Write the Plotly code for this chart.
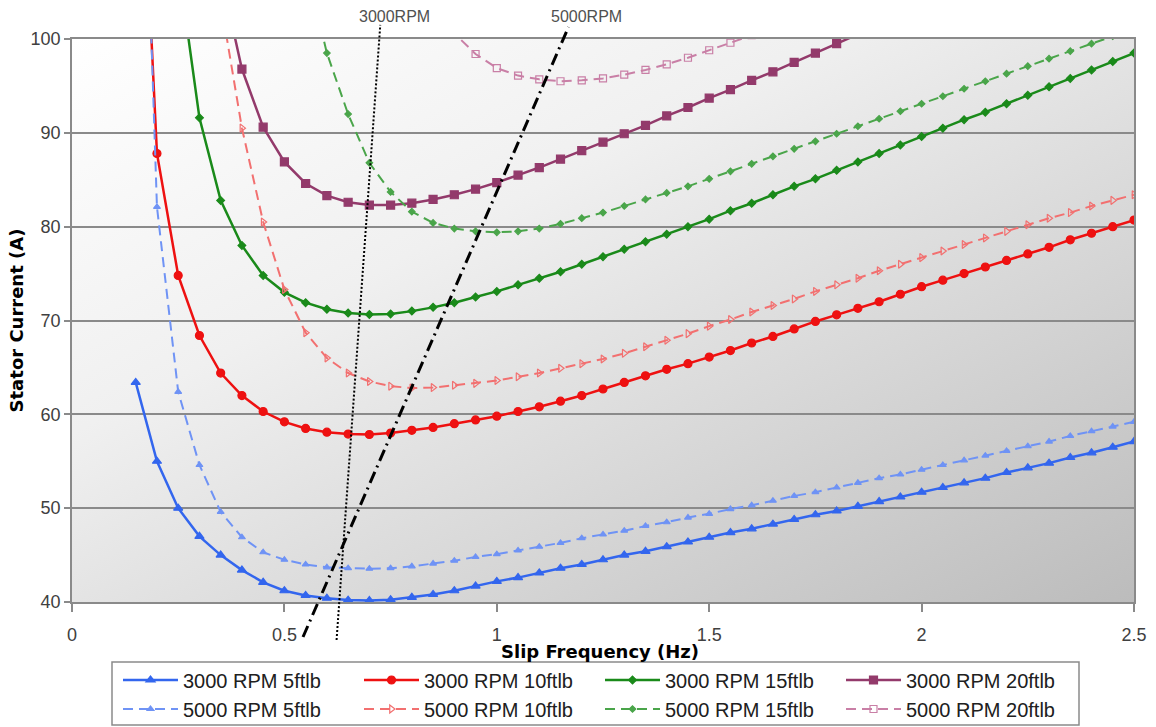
import base64
import plotly.graph_objects as go

# ---------------- data ----------------
slip_hz = [0.15, 0.20, 0.25, 0.30, 0.35, 0.40, 0.45, 0.50, 0.55, 0.60,
           0.65, 0.70, 0.75, 0.80, 0.85, 0.90, 0.95, 1.00, 1.05, 1.10,
           1.15, 1.20, 1.25, 1.30, 1.35, 1.40, 1.45, 1.50, 1.55, 1.60,
           1.65, 1.70, 1.75, 1.80, 1.85, 1.90, 1.95, 2.00, 2.05, 2.10,
           2.15, 2.20, 2.25, 2.30, 2.35, 2.40, 2.45, 2.50]

rpm3000_5ftlb = [63.4, 55.0, 50.0, 47.0, 45.0, 43.4, 42.1, 41.2, 40.7, 40.4,
                 40.2, 40.15, 40.25, 40.5, 40.8, 41.2, 41.7, 42.2, 42.6, 43.1,
                 43.6, 44.0, 44.5, 45.0, 45.4, 45.9, 46.4, 46.9, 47.4, 47.8,
                 48.3, 48.8, 49.3, 49.7, 50.2, 50.7, 51.2, 51.7, 52.2, 52.7,
                 53.2, 53.8, 54.3, 54.8, 55.4, 55.9, 56.5, 57.1]

rpm5000_5ftlb = [150.0, 82.1, 62.4, 54.6, 49.6, 46.9, 45.3, 44.5, 44.0, 43.7,
                 43.6, 43.55, 43.6, 43.8, 44.1, 44.4, 44.8, 45.1, 45.5, 45.9,
                 46.3, 46.8, 47.2, 47.6, 48.1, 48.5, 49.0, 49.4, 49.9, 50.3,
                 50.8, 51.3, 51.7, 52.2, 52.7, 53.2, 53.6, 54.1, 54.6, 55.1,
                 55.6, 56.1, 56.6, 57.1, 57.7, 58.2, 58.7, 59.2]

rpm3000_10ftlb = [135.0, 87.8, 74.8, 68.4, 64.4, 62.0, 60.3, 59.2, 58.5, 58.1,
                  57.9, 57.85, 58.0, 58.3, 58.6, 59.0, 59.4, 59.8, 60.3, 60.8,
                  61.4, 62.0, 62.7, 63.4, 64.1, 64.8, 65.4, 66.1, 66.8, 67.6,
                  68.3, 69.1, 69.9, 70.6, 71.3, 72.0, 72.8, 73.6, 74.3, 75.0,
                  75.7, 76.4, 77.1, 77.8, 78.6, 79.3, 80.0, 80.7]

rpm5000_10ftlb = [None, None, None, None, 104.0, 90.5, 80.5, 73.3, 68.7, 66.0,
                  64.4, 63.5, 63.0, 62.8, 62.85, 63.1, 63.3, 63.6, 64.0, 64.4,
                  64.9, 65.4, 65.9, 66.5, 67.2, 67.9, 68.6, 69.4, 70.1, 70.9,
                  71.6, 72.3, 73.1, 73.8, 74.5, 75.3, 76.0, 76.7, 77.4, 78.1,
                  78.8, 79.5, 80.2, 80.9, 81.5, 82.2, 82.8, 83.4]

rpm3000_15ftlb = [None, None, 108.0, 91.6, 82.8, 78.0, 74.8, 73.0, 71.9, 71.2,
                  70.8, 70.65, 70.7, 71.0, 71.4, 71.9, 72.5, 73.1, 73.8, 74.5,
                  75.2, 76.0, 76.8, 77.6, 78.4, 79.2, 80.0, 80.8, 81.7, 82.5,
                  83.4, 84.3, 85.1, 86.0, 86.9, 87.8, 88.7, 89.6, 90.5, 91.4,
                  92.2, 93.1, 94.0, 94.9, 95.8, 96.7, 97.6, 98.5]

rpm5000_15ftlb = [None, None, None, None, None, None, None, None, 108.0, 98.5,
                  92.0, 86.8, 83.7, 81.6, 80.4, 79.8, 79.5, 79.4, 79.5, 79.8,
                  80.3, 80.9, 81.5, 82.2, 82.9, 83.6, 84.3, 85.1, 85.9, 86.7,
                  87.5, 88.3, 89.1, 89.9, 90.7, 91.5, 92.3, 93.1, 93.9, 94.7,
                  95.5, 96.3, 97.1, 97.9, 98.7, 99.5, 100.3, 101.1]

rpm3000_20ftlb = [None, None, None, None, 107.0, 96.8, 90.6, 86.9, 84.6, 83.3,
                  82.6, 82.3, 82.3, 82.5, 82.9, 83.4, 84.0, 84.7, 85.5, 86.3,
                  87.2, 88.1, 89.0, 89.9, 90.8, 91.8, 92.7, 93.7, 94.6, 95.6,
                  96.5, 97.5, 98.5, 99.5, 100.5, None, None, None, None, None,
                  None, None, None, None, None, None, None, None]

rpm5000_20ftlb = [None, None, None, None, None, None, None, None, None, None,
                  None, None, None, None, 104.0, 100.6, 98.4, 96.9, 96.1, 95.7,
                  95.5, 95.6, 95.8, 96.2, 96.7, 97.3, 98.0, 98.8, 99.6, 100.4,
                  None, None, None, None, None, None, None, None, None, None,
                  None, None, None, None, None, None, None, None]

# guide lines (loci of the current minima)
locus3000_x = [0.6228, 0.7257]
locus3000_y = [35.95, 101.5]
locus5000_x = [0.5438, 1.1688]
locus5000_y = [36.27, 101.28]
locus_labels = ["3000RPM", "5000RPM"]
locus_label_x = [0.76, 1.212]

x_ticks = [0, 0.5, 1, 1.5, 2, 2.5]
x_tick_text = ["0", "0.5", "1", "1.5", "2", "2.5"]
y_ticks = [40, 50, 60, 70, 80, 90, 100]

# ---------------- layout helpers ----------------
W, H = 1156, 727
ML, MR, MT, MB = 72, 22, 10, 82
PW, PH = W - ML - MR, H - MT - MB


def px2paper(px):
    return (px - ML) / PW


def py2paper(py):
    return (H - MB - py) / PH


y_dom = [py2paper(602), py2paper(39)]
y_lo, y_hi = 40, 100
span = (y_hi - y_lo) / (y_dom[1] - y_dom[0])
y2_range = [y_lo - y_dom[0] * span, y_hi + (1 - y_dom[1]) * span]

TICKFONT = dict(family="Liberation Sans, Arial, sans-serif", size=18, color="#404040")
TITLEFONT = dict(family="DejaVu Sans, sans-serif", size=18, color="#000000")
LEGFONT = dict(family="Liberation Sans, Arial, sans-serif", size=20, color="#202020")
GRID = "#8a8a8a"

series = [
    ("3000 RPM 5ftlb", rpm3000_5ftlb, "#3366ee", "solid", 2.5, "triangle-up", 8, "legend"),
    ("3000 RPM 10ftlb", rpm3000_10ftlb, "#ee1111", "solid", 2.5, "circle", 8, "legend"),
    ("3000 RPM 15ftlb", rpm3000_15ftlb, "#1a8a1a", "solid", 2.5, "diamond", 6, "legend"),
    ("3000 RPM 20ftlb", rpm3000_20ftlb, "#933a6b", "solid", 2.5, "square", 8, "legend"),
    ("5000 RPM 5ftlb", rpm5000_5ftlb, "#6f93f5", "10px,6px", 2, "triangle-up", 6, "legend2"),
    ("5000 RPM 10ftlb", rpm5000_10ftlb, "#f27070", "10px,6px", 2, "triangle-right-open", 7, "legend2"),
    ("5000 RPM 15ftlb", rpm5000_15ftlb, "#4aa54a", "10px,6px", 2, "diamond", 5, "legend2"),
    ("5000 RPM 20ftlb", rpm5000_20ftlb, "#c97fa6", "10px,6px", 2, "square-open", 7, "legend2"),
]

fig = go.Figure()
for name, yv, col, dash, lw, sym, ms, leg in series:
    fig.add_trace(go.Scatter(
        x=slip_hz, y=yv, name=name, mode="lines+markers",
        line=dict(color=col, width=lw, dash=dash),
        marker=dict(symbol=sym, size=ms, color=col, line=dict(color=col, width=1.2)),
        legend=leg, xaxis="x", yaxis="y", connectgaps=False,
    ))

fig.add_trace(go.Scatter(
    x=locus3000_x, y=locus3000_y, mode="lines", showlegend=False,
    line=dict(color="#000000", width=2, dash="2px,2px"),
    xaxis="x2", yaxis="y2", hoverinfo="skip"))
fig.add_trace(go.Scatter(
    x=locus5000_x, y=locus5000_y, mode="lines", showlegend=False,
    line=dict(color="#000000", width=3, dash="12px,5px,2px,5px"),
    xaxis="x2", yaxis="y2", hoverinfo="skip"))

# diagonal grey gradient for the plot area
svg = ('<svg xmlns="http://www.w3.org/2000/svg" width="200" height="200" '
       'viewBox="0 0 200 200" preserveAspectRatio="none"><defs>'
       '<linearGradient id="g" x1="0" y1="0" x2="1" y2="1">'
       '<stop offset="0" stop-color="#ffffff"/>'
       '<stop offset="0.35" stop-color="#f0f0f0"/>'
       '<stop offset="1" stop-color="#bcbcbc"/>'
       '</linearGradient></defs>'
       '<rect x="0" y="0" width="200" height="200" fill="url(#g)"/></svg>')
svg_uri = "data:image/svg+xml;base64," + base64.b64encode(svg.encode()).decode()

annotations = [dict(text=t, x=xv, xref="x", y=py2paper(17), yref="paper",
                    showarrow=False, xanchor="center", yanchor="middle",
                    font=dict(family="Liberation Sans, Arial, sans-serif",
                              size=16, color="#505050"))
               for t, xv in zip(locus_labels, locus_label_x)]
annotations.append(dict(text="<b>Slip Frequency (Hz)</b>", x=px2paper(600), xref="paper",
                        y=py2paper(651), yref="paper", showarrow=False,
                        xanchor="center", yanchor="middle", font=TITLEFONT))

fig.update_layout(
    width=W, height=H,
    margin=dict(l=ML, r=MR, t=MT, b=MB, autoexpand=False),
    paper_bgcolor="#ffffff",
    plot_bgcolor="rgba(0,0,0,0)",
    images=[dict(source=svg_uri, xref="x", yref="y", x=0, y=y_hi,
                 sizex=2.5, sizey=y_hi - y_lo, xanchor="left", yanchor="top",
                 sizing="stretch", layer="below")],
    xaxis=dict(domain=[0, 1], range=[0, 2.5], tickvals=x_ticks, ticktext=x_tick_text,
               showgrid=False, zeroline=False, showline=True, linecolor=GRID,
               linewidth=1.5, mirror=True, ticks="outside", ticklen=8,
               tickcolor=GRID, tickwidth=1.5, tickfont=TICKFONT,
               ticklabelstandoff=8, anchor="y", automargin=False),
    yaxis=dict(domain=y_dom, range=[y_lo, y_hi], tickvals=y_ticks,
               showgrid=True, gridcolor=GRID, gridwidth=1.5, zeroline=False,
               showline=True, linecolor=GRID, linewidth=1.5, mirror=True,
               ticks="outside", ticklen=6, tickcolor=GRID, tickwidth=1.5,
               tickfont=TICKFONT, anchor="x", automargin=False,
               title=dict(text="<b>Stator Current (A)</b>", font=TITLEFONT, standoff=2)),
    xaxis2=dict(domain=[0, 1], range=[0, 2.5], visible=False, anchor="y2", fixedrange=True),
    yaxis2=dict(domain=[0, 1], range=y2_range, visible=False, anchor="x2", fixedrange=True),
    legend=dict(orientation="h", x=px2paper(118), y=py2paper(680), xanchor="left",
                yanchor="middle", font=LEGFONT, itemwidth=55, entrywidth=171,
                bgcolor="rgba(0,0,0,0)", borderwidth=0, traceorder="normal"),
    legend2=dict(orientation="h", x=px2paper(118), y=py2paper(709), xanchor="left",
                 yanchor="middle", font=LEGFONT, itemwidth=55, entrywidth=171,
                 bgcolor="rgba(0,0,0,0)", borderwidth=0, traceorder="normal"),
    shapes=[dict(type="rect", xref="paper", yref="paper",
                 x0=px2paper(112), x1=px2paper(1079),
                 y0=py2paper(725), y1=py2paper(662),
                 line=dict(color="#8a8a8a", width=1.5), fillcolor="#ffffff",
                 layer="below")],
    annotations=annotations,
    showlegend=True,
)

fig.write_html("out.html")
